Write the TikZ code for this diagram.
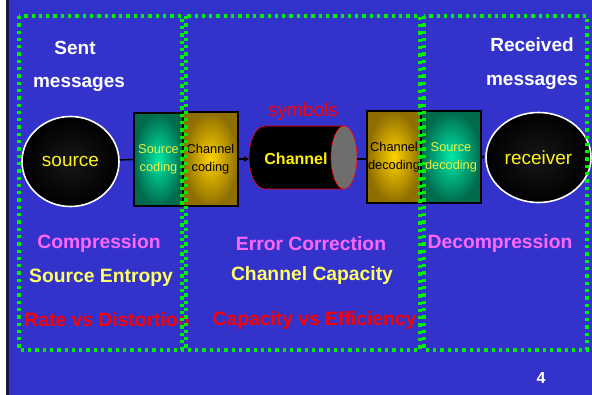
\documentclass[tikz,border=0pt]{standalone}
\usepackage{fontspec}
\setmainfont{Liberation Sans}
\usetikzlibrary{shapes.geometric,arrows.meta}

\definecolor{slideblue}{HTML}{3333CC}
\definecolor{slideedge}{HTML}{16163A}
\definecolor{dotgreen}{HTML}{00EE00}
\definecolor{tealout}{HTML}{006A4C}
\definecolor{tealin}{HTML}{00E8A8}
\definecolor{goldout}{HTML}{8E6E00}
\definecolor{goldin}{HTML}{FFD200}
\definecolor{pinktext}{HTML}{FF66FF}
\definecolor{yellowtext}{HTML}{FFFF66}
\definecolor{codetext}{HTML}{F0F040}
\definecolor{cylend}{HTML}{6E6E6E}

\tikzset{
	endpoint/.style={ellipse, draw=white, line width=1.6pt, minimum width=97pt, minimum height=90pt,
		inner color=black!91!white, outer color=black, text=yellow!90!white, font=\fontsize{19}{19}\selectfont},
	sourcebox/.style={rectangle, draw=black, line width=1.2pt, inner color=tealin, outer color=tealout,
		text=codetext, align=center, inner sep=0pt, font=\fontsize{12.8}{18}\selectfont},
	channelbox/.style={rectangle, draw=black, line width=1.2pt, inner color=goldin, outer color=goldout,
		text=black, align=center, inner sep=0pt, font=\fontsize{12.8}{18}\selectfont},
	headline/.style={text=white, inner sep=0pt, font=\bfseries\fontsize{19}{19}\selectfont},
	topic/.style={inner sep=0pt, font=\bfseries\fontsize{19.3}{19}\selectfont},
	zone/.style={dotgreen, line width=3.3pt, dash pattern=on 3.3pt off 4pt},
	link/.style={black, line width=1.5pt},
	>={Triangle[length=5pt,width=5pt]}
}

\begin{document}
\begin{tikzpicture}[x=1pt, y=-1pt]
		% фон слайда
		\useasboundingbox ( 0, 0 ) rectangle ( 592, 395 );
		\fill [white] ( 0, 0 ) rectangle ( 592, 395 );
		\fill [slideblue] ( 6, 0 ) rectangle ( 592, 395 );
		\fill [slideedge] ( 6, 0 ) rectangle ( 9, 395 );

		% передатчик
		\node [endpoint] (source) at ( 70.5, 161.5 ) {source};
		\node [sourcebox, minimum width=49pt, minimum height=93pt] (scod) at ( 158.5, 159.5 ) {Source\\coding};
		\node [channelbox, minimum width=55pt, minimum height=94pt] (ccod) at ( 210.5, 159 ) {Channel\\coding};

		% канал
		\coordinate (cylL) at ( 249, 159 );
		\coordinate (cylR) at ( 357, 159 );
		\draw [red, line width=0.6pt, fill=black] ( 344, 126 ) -- ( 265, 126 )
			arc [start angle=270, end angle=90, x radius=16, y radius=31.5] -- ( 344, 189 ) -- cycle;
		\draw [red, line width=0.6pt, fill=cylend] ( 344, 157.5 ) ellipse [x radius=13, y radius=31.5];
		\node [text=yellow, font=\bfseries\fontsize{16}{16}\selectfont] (chan) at ( 296, 159 ) {Channel};
		\node [text=red, inner sep=0pt, font=\fontsize{19}{19}\selectfont] (symb) at ( 303, 112 ) {symbols};

		% приемник
		\node [channelbox, minimum width=54pt, minimum height=92pt] (cdec) at ( 394, 157 ) {Channel\\decoding};
		\node [sourcebox, minimum width=60pt, minimum height=92pt] (sdec) at ( 451, 157 ) {Source\\decoding};
		\node [endpoint] (receiver) at ( 538.5, 157.5 ) {receiver};

		% связи
		\draw [link] (source) -- (scod.west);
		\draw [link, ->] (ccod.east) -- (cylL);
		\draw [link] (cylR) -- (cylR -| cdec.west);
		\draw [link, ->] (sdec.east) -- (receiver);

		% подписи
		\node [headline] (sent) at ( 75, 48 ) {Sent};
		\node [headline] (sentmsg) at ( 79, 84 ) {messages};
		\node [headline] (recv) at ( 532, 45 ) {Received};
		\node [headline] (recvmsg) at ( 532, 82 ) {messages};

		\node [topic, text=pinktext] (compr) at ( 99, 244 ) {Compression};
		\node [topic, text=yellowtext] (sentropy) at ( 101, 278 ) {Source Entropy};
		\node [topic, text=red] (ratedist) at ( 107, 319.5 ) {Rate vs Distortion};
		\node [topic, text=pinktext] (errcorr) at ( 311, 244 ) {Error Correction};
		\node [topic, text=yellowtext] (chcap) at ( 312, 276 ) {Channel Capacity};
		\node [topic, text=red] (capeff) at ( 314.5, 320.5 ) {Capacity vs Efficiency};
		\node [topic, text=pinktext] (decompr) at ( 500, 244 ) {Decompression};

		\node [text=white, inner sep=0pt, font=\bfseries\fontsize{16}{16}\selectfont] (page) at ( 541, 378 ) {4};

		% зоны
		\draw [zone] ( 19, 16 ) rectangle ( 182, 350 );
		\draw [zone] ( 186, 16 ) rectangle ( 420, 350 );
		\draw [zone] ( 424, 16 ) rectangle ( 587, 350 );
	\end{tikzpicture}
\end{document}
